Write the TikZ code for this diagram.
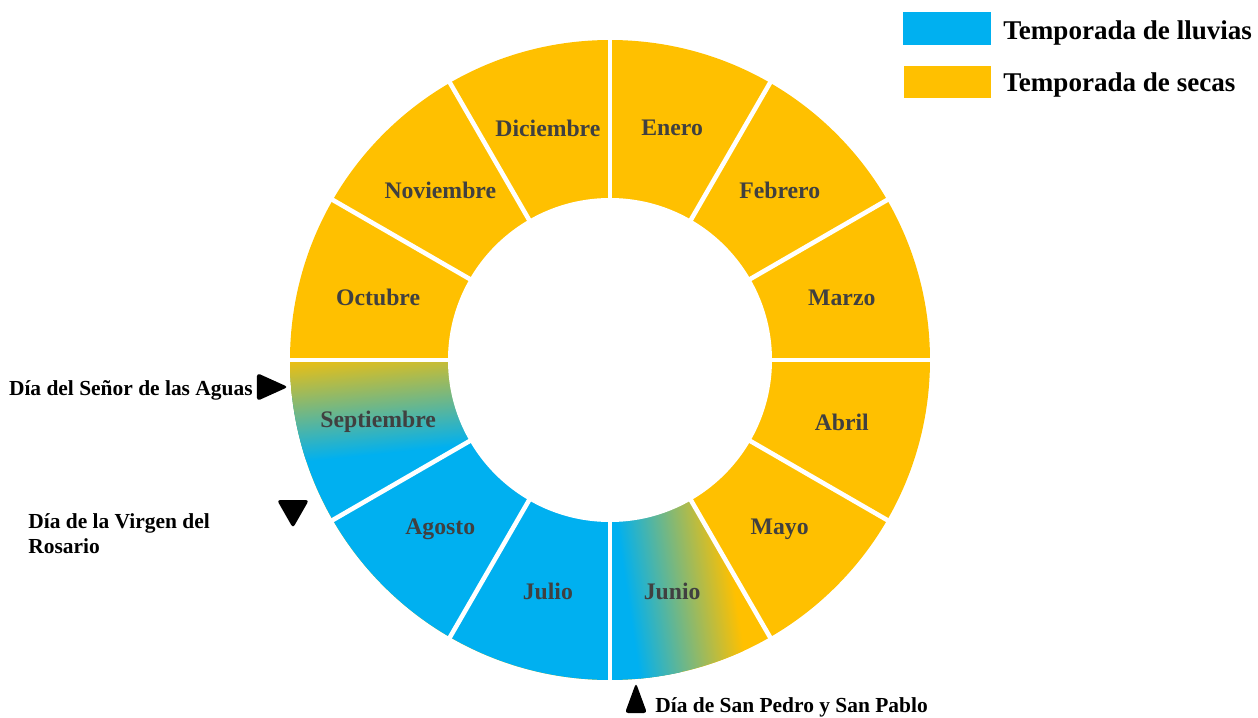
\documentclass[tikz,border=0pt]{standalone}
\usepackage{fontspec}
\setmainfont{Liberation Serif}
\usepackage{xcolor}
\usepackage{tikz}
\usetikzlibrary{shapes.geometric, arrows}

\definecolor{lluvia}{HTML}{00B0F0}
\definecolor{seca}{HTML}{FFC000}
\definecolor{mestexto}{HTML}{404040}

\begin{document}
\begin{tikzpicture}[
        mes/.style={text=mestexto, font=\fontsize{13.5}{16}\selectfont\bfseries},
        nota/.style={inner sep=0pt, font=\fontsize{12.2}{14.4}\selectfont\bfseries},
        leyenda/.style={inner sep=0pt, anchor=west, font=\fontsize{15.4}{18}\selectfont\bfseries},
        corte/.style={draw=white, line width=2.6pt},
        marca/.style={fill=black, rounded corners=1.8pt}
    ]
        \useasboundingbox (-12.2,-7.14) rectangle (12.96,7.2);

        \fill[seca] (0,0) circle (6.4);
        \fill[lluvia] (0,0) -- (180:6.4) arc (180:270:6.4) -- cycle;

        \begin{scope}
            \clip (0,0) -- (180:6.4) arc (180:210:6.4) -- cycle;
            \fill[seca] (-7,0.5) rectangle (-2,-0.75);
            \begin{scope}[transform canvas={rotate around={6:(-4.4,-0.75)}}]
                \shade[top color=seca, bottom color=lluvia] (-8,0.35) rectangle (-1,-1.85);
            \end{scope}
        \end{scope}

        \begin{scope}
            \clip (0,0) -- (270:6.4) arc (270:300:6.4) -- cycle;
            \fill[lluvia] (-0.5,-7) rectangle (1.43,-2);
            \begin{scope}[transform canvas={rotate around={8.6:(1.43,-4.7)}}]
                \shade[left color=lluvia, right color=seca] (0.35,-2) rectangle (2.5,-7.4);
            \end{scope}
        \end{scope}

        \draw[corte] (0:6.6) -- (180:6.6);
        \draw[corte] (30:6.6) -- (210:6.6);
        \draw[corte] (60:6.6) -- (240:6.6);
        \draw[corte] (90:6.6) -- (270:6.6);
        \draw[corte] (120:6.6) -- (300:6.6);
        \draw[corte] (150:6.6) -- (330:6.6);
        \fill[white] (0,0) circle (3.24);

        \node[mes] (enero) at (75:4.8) {Enero};
        \node[mes] (febrero) at (45:4.8) {Febrero};
        \node[mes] (marzo) at (15:4.8) {Marzo};
        \node[mes] (abril) at (-15:4.8) {Abril};
        \node[mes] (mayo) at (-45:4.8) {Mayo};
        \node[mes] (junio) at (-75:4.8) {Junio};
        \node[mes] (julio) at (-105:4.8) {Julio};
        \node[mes] (agosto) at (-135:4.8) {Agosto};
        \node[mes] (septiembre) at (-165:4.8) {Septiembre};
        \node[mes] (octubre) at (165:4.8) {Octubre};
        \node[mes] (noviembre) at (135:4.8) {Noviembre};
        \node[mes] (diciembre) at (105:4.8) {Diciembre};

        \fill[marca] (-7.06,-0.26) -- (-6.44,-0.54) -- (-7.06,-0.82) -- cycle;
        \fill[marca] (-6.66,-2.8) -- (-6.02,-2.8) -- (-6.34,-3.36) -- cycle;
        \fill[marca] (0.3,-7.06) -- (0.74,-7.06) -- (0.52,-6.46) -- cycle;

        \node[nota, anchor=east] (aguas) at (-7.14,-0.6) {Día del Señor de las Aguas};
        \node[nota, anchor=west, align=left] (rosario) at (-11.64,-3.48) {Día de la Virgen del\\Rosario};
        \node[nota, anchor=west] (pedro) at (0.9,-6.95) {Día de San Pedro y San Pablo};

        \fill[lluvia] (5.86,6.96) rectangle (7.62,6.3);
        \fill[seca] (5.88,5.88) rectangle (7.62,5.24);
        \node[leyenda] (tlluvias) at (7.86,6.54) {Temporada de lluvias};
        \node[leyenda] (tsecas) at (7.86,5.5) {Temporada de secas};
    \end{tikzpicture}
\end{document}
